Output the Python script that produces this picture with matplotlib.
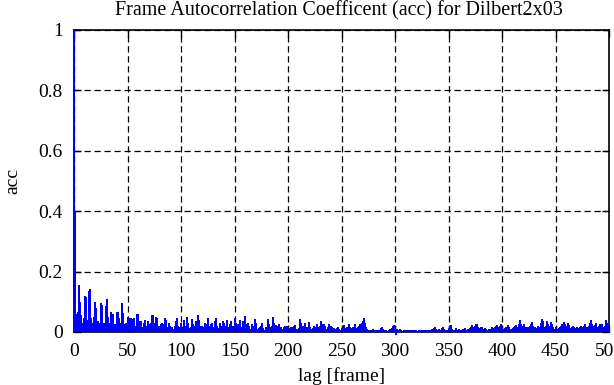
import matplotlib
matplotlib.use("Agg")
import matplotlib.pyplot as plt

title = "Frame Autocorrelation Coefficent (acc) for Dilbert2x03"
xlabel = "lag [frame]"
ylabel = "acc"
xticks = [0, 50, 100, 150, 200, 250, 300, 350, 400, 450, 500]
yticks = [0, 0.2, 0.4, 0.6, 0.8, 1.0]
ytick_labels = ["0", "0.2", "0.4", "0.6", "0.8", "1"]

acc = [
    1.0, 0.40, 0.06, 0.035, 0.065, 0.155, 0.10, 0.055, 0.03, 0.045,
    0.12, 0.115, 0.04, 0.025, 0.135, 0.142, 0.045, 0.03, 0.028, 0.05,
    0.10, 0.08, 0.035, 0.025, 0.03, 0.097, 0.09, 0.03, 0.022, 0.03,
    0.086, 0.11, 0.05, 0.022, 0.03, 0.066, 0.06, 0.028, 0.02, 0.025,
    0.067, 0.065, 0.045, 0.02, 0.03, 0.095, 0.062, 0.025, 0.018, 0.03,
    0.05, 0.045, 0.02, 0.047, 0.042, 0.03, 0.045, 0.018, 0.02, 0.06,
    0.058, 0.03, 0.035, 0.035, 0.015, 0.03, 0.04, 0.02, 0.012, 0.035,
    0.025, 0.015, 0.03, 0.057, 0.055, 0.03, 0.02, 0.05, 0.045, 0.02,
    0.015, 0.028, 0.03, 0.015, 0.025, 0.046, 0.04, 0.015, 0.012, 0.03,
    0.02, 0.012, 0.018, 0.01, 0.02, 0.036, 0.047, 0.02, 0.012, 0.015,
    0.03, 0.015, 0.012, 0.04, 0.02, 0.015, 0.05, 0.03, 0.012, 0.018,
    0.044, 0.025, 0.01, 0.02, 0.035, 0.015, 0.055, 0.04, 0.012, 0.02,
    0.02, 0.015, 0.03, 0.025, 0.01, 0.045, 0.02, 0.012, 0.025, 0.03,
    0.015, 0.01, 0.035, 0.045, 0.02, 0.012, 0.03, 0.02, 0.01, 0.038,
    0.03, 0.015, 0.02, 0.04, 0.015, 0.01, 0.025, 0.035, 0.012, 0.02,
    0.045, 0.03, 0.012, 0.028, 0.02, 0.04, 0.015, 0.01, 0.035, 0.02,
    0.053, 0.025, 0.012, 0.03, 0.02, 0.01, 0.028, 0.015, 0.02, 0.044,
    0.03, 0.008, 0.01, 0.012, 0.015, 0.02, 0.03, 0.012, 0.008, 0.018,
    0.01, 0.042, 0.025, 0.012, 0.015, 0.02, 0.05, 0.03, 0.01, 0.024,
    0.02, 0.01, 0.027, 0.015, 0.008, 0.01, 0.015, 0.02, 0.012, 0.02,
    0.015, 0.008, 0.012, 0.018, 0.01, 0.015, 0.02, 0.022, 0.01, 0.008,
    0.012, 0.044, 0.03, 0.012, 0.02, 0.015, 0.03, 0.018, 0.01, 0.015,
    0.032, 0.015, 0.01, 0.012, 0.02, 0.012, 0.015, 0.028, 0.015, 0.01,
    0.02, 0.037, 0.025, 0.012, 0.028, 0.02, 0.01, 0.015, 0.027, 0.012,
    0.02, 0.015, 0.008, 0.012, 0.01, 0.008, 0.012, 0.018, 0.01, 0.008,
    0.012, 0.015, 0.022, 0.012, 0.01, 0.015, 0.012, 0.028, 0.015, 0.01,
    0.012, 0.018, 0.015, 0.025, 0.012, 0.018, 0.02, 0.028, 0.015, 0.03,
    0.035, 0.045, 0.03, 0.015, 0.01, 0.008, 0.005, 0.004, 0.006, 0.01,
    0.008, 0.005, 0.004, 0.006, 0.005, 0.004, 0.008, 0.012, 0.016, 0.01,
    0.006, 0.004, 0.005, 0.004, 0.008, 0.01, 0.006, 0.012, 0.02, 0.024,
    0.015, -0.009, 0.01, 0.005, 0.006, 0.01, 0.006, 0.004, 0.005, 0.007,
    0.005, 0.008, 0.006, 0.004, 0.005, 0.004, 0.006, 0.008, 0.005, 0.004,
    0.005, 0.004, 0.006, 0.005, 0.004, 0.005, 0.008, 0.006, 0.005, 0.004,
    0.006, 0.004, 0.005, 0.008, 0.006, 0.01, 0.012, 0.016, 0.01, 0.006,
    0.008, 0.01, 0.006, 0.005, 0.012, 0.016, 0.01, 0.006, 0.005, 0.008,
    0.012, 0.02, 0.022, 0.01, 0.006, 0.004, 0.008, 0.012, 0.006, 0.005,
    0.01, 0.008, 0.005, 0.006, 0.01, 0.012, 0.008, 0.006, 0.01, 0.005,
    0.012, 0.018, 0.024, 0.016, 0.012, 0.02, 0.026, 0.027, 0.015, 0.012,
    0.018, 0.015, 0.01, 0.008, 0.012, 0.01, 0.006, 0.008, 0.01, 0.006,
    0.01, 0.015, 0.012, 0.018, 0.02, 0.022, 0.015, 0.012, 0.02, 0.027,
    0.015, 0.01, 0.008, 0.012, 0.015, 0.018, 0.022, 0.015, 0.01, 0.008,
    0.012, 0.015, 0.02, 0.022, 0.018, 0.012, 0.025, 0.04, 0.025, 0.015,
    0.02, 0.025, 0.018, 0.012, 0.015, 0.012, 0.02, 0.025, 0.032, 0.02,
    0.012, 0.015, 0.01, 0.012, 0.02, 0.015, 0.03, 0.044, 0.035, 0.015,
    0.012, 0.02, 0.038, 0.025, 0.015, 0.02, 0.033, 0.028, 0.015, 0.01,
    0.015, 0.01, 0.008, 0.012, 0.015, 0.02, 0.025, 0.02, 0.033, 0.025,
    0.015, 0.02, 0.031, 0.022, 0.012, 0.015, 0.02, 0.018, 0.01, 0.012,
    0.015, 0.012, 0.01, 0.015, 0.02, 0.015, 0.012, 0.02, 0.027, 0.018,
    0.012, 0.02, 0.03, 0.04, 0.025, 0.015, 0.02, 0.022, 0.03, 0.018,
    0.015, 0.02, 0.027, 0.025, 0.015, 0.012, 0.02, 0.04, 0.03, 0.018,
    0.02,
]
lags = list(range(len(acc)))

plt.rcParams['font.family'] = ['Liberation Serif', 'DejaVu Serif']

fig = plt.figure(figsize=(6.14, 3.85), dpi=100)
ax = fig.add_axes([74/614, 53/385, 535/614, 302/385])

# impulses from zero to each value
ax.vlines(lags, 0, acc, color=(0, 0, 1), linewidth=1.4, clip_on=False,
          zorder=3, antialiased=False)

ax.set_xlim(0, 500)
ax.set_ylim(0, 1)
ax.set_xticks(xticks)
ax.set_yticks(yticks)
ax.set_yticklabels(ytick_labels)
ax.grid(True, color='black', linestyle=(0, (5, 3)), linewidth=0.9)
ax.tick_params(direction='in', top=True, right=True, length=5, width=1,
               labelsize=14, pad=8)
for s in ax.spines.values():
    s.set_linewidth(1.2)

fig.text((74 + 535 / 2 - 3) / 614, 1 - 11 / 385, title, fontsize=14.5,
         ha='center', va='center')
ax.set_xlabel(xlabel, fontsize=14, labelpad=5)
ax.set_ylabel(ylabel, fontsize=14, labelpad=12)

fig.savefig("out.png", dpi=100)
